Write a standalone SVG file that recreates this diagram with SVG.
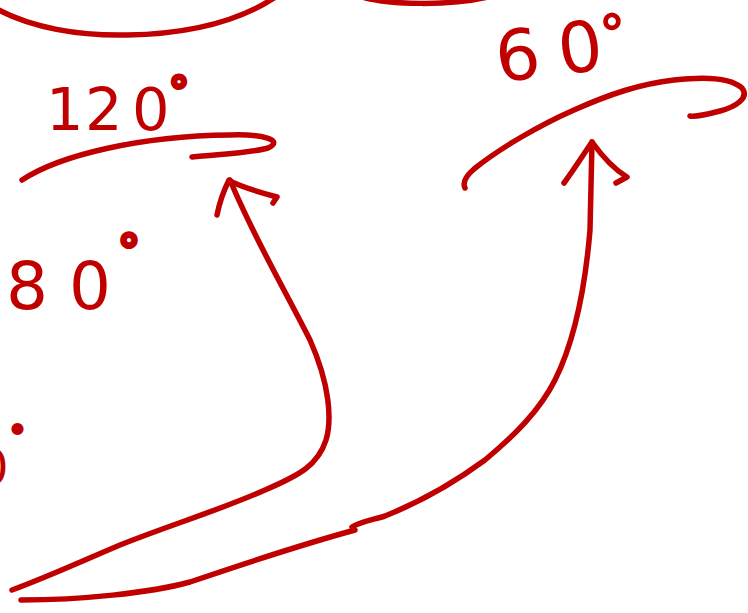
<svg xmlns="http://www.w3.org/2000/svg" width="748" height="613" viewBox="0 0 748 613">
<style>
.s{fill:none;stroke:#c00000;stroke-width:5.5;stroke-linecap:round;stroke-linejoin:round}
.t{fill:#c00000;font-family:"DejaVu Sans","Liberation Sans",sans-serif}
.d{stroke:#c00000;stroke-width:4}
.o{stroke:#c00000;stroke-width:1.5}
</style>
<rect width="748" height="613" fill="#ffffff"/>
<g id="arc-top-left"><path class="s" d="M-5,8 C30,28 80,36 127,35 C190,34 240,20 274,-2"/></g>
<g id="arc-top-right"><path class="s" d="M362,-3 C390,5 450,6 488,-3"/></g>
<g id="label-120">
<text class="t" font-size="59" x="46 85 132" y="130">120</text>
<text class="t d" font-size="40" x="169" y="106">°</text>
</g>
<g id="arc-120"><path class="s" d="M22,180 C60,155 140,136 230,135 C262,134 285,140 268,148 C250,153 220,154 192,157"/></g>
<g id="label-80">
<text class="t" font-size="66" x="6 69" y="309">80</text>
<text class="t d" font-size="44" x="118" y="266">°</text>
</g>
<g id="label-0-edge">
<text class="t" font-size="48" x="-22" y="484">0</text>
<text class="t d" font-size="26" x="11" y="445">°</text>
</g>
<g id="label-60" transform="translate(548,51) rotate(-7)">
<text class="t" font-size="70" x="-53 10" y="25">60</text>
<text class="t o" font-size="52" x="54" y="9">°</text>
</g>
<g id="arc-60"><path class="s" d="M465,188 C462,182 466,176 474,169 C500,148 540,125 574,110 C610,94 640,84 674,80 C700,77 730,77 742,88 C750,98 735,107 720,111 C705,115 695,117 690,116"/></g>
<g id="connectors">
<path class="s" d="M230,180 C255,240 285,290 310,340 C330,385 332,420 326,440 C318,465 300,475 265,490 C220,510 170,525 120,545 C80,562 45,578 12,590"/>
<path class="s" d="M217,215 C220,200 224,190 229,180 L232,182 C245,188 262,193 277,197 L273,203"/>
<path class="s" d="M21,600 C80,600 150,593 190,582 C240,565 300,545 355,530"/>
<path class="s" d="M352,527 C360,522 372,520 385,516 C420,502 455,482 485,460 C515,435 540,410 555,380 C575,340 585,290 590,230 L592,142"/>
<path class="s" d="M564,183 C575,168 585,152 592,142 C602,156 612,168 627,177 L616,183"/>
</g>
</svg>
